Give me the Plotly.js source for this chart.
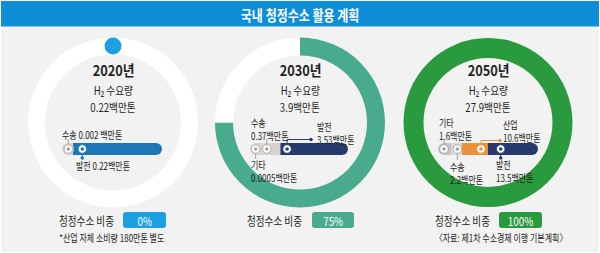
<!DOCTYPE html>
<html><head><meta charset="utf-8">
<script src="https://cdn.plot.ly/plotly-3.0.1.min.js"></script>
<style>html,body{margin:0;padding:0;background:#f2f2f2}#chart{width:600px;height:253px}</style>
</head><body><div id="chart"></div>
<script>
// ---------- data ----------
const years = ['2020년', '2030년', '2050년'];
const demand = [0.22, 3.9, 27.9];               // H2 demand, million tons
const cleanShare = [0, 75, 100];                // clean hydrogen share, %

const seg2020Names = ['수송', '발전'];
const seg2020Values = [0.002, 0.22];
const seg2020Drawn = [11, 89];                  // share of bar length as drawn (%)

const seg2030Names = ['기타', '수송', '발전'];
const seg2030Values = [0.0005, 0.37, 3.53];
const seg2030Drawn = [11, 20, 69];

const seg2050Names = ['기타', '수송', '산업', '발전'];
const seg2050Values = [1.6, 2.2, 10.6, 13.5];
const seg2050Drawn = [13, 11, 26, 50];

const titleText = '국내 청정수소 활용 계획';
const demandLabel = 'H₂ 수요량';
const shareLabel = '청정수소 비중';
const note1 = '*산업 자체 소비량 180만톤 별도';
const note2 = '〈자료: 제1차 수소경제 이행 기본계획〉';

// ---------- layout / style ----------
const W = 600, H = 253;
const F = '"Noto Sans CJK KR", "Noto Sans", sans-serif';
const ink = '#231f20';

const rings = [
  {cx: 113, cy: 122.5, r: 85, thick: 17, color: '#1ca0e3'},
  {cx: 300, cy: 122.5, r: 85, thick: 18, color: '#48ab8e'},
  {cx: 488, cy: 122.5, r: 84.5, thick: 20, color: '#2a9a3e'}
];

const barY = 149, barH = 12, capPx = 6;
const grayLead = '#a6a19b';
const bars = [
  {x0: 62, x1: 162, names: seg2020Names, vals: seg2020Values, drawn: seg2020Drawn,
   fill: ['#d7d3ce', '#1d77b6'], dot: [grayLead, '#1d77b6'], dotOff: [6.3, 9.3],
   labels: [{x: 61, y: 134, to: 139, one: true, sp: true}, {x: 75, y: 165, to: 158, one: true, end: true}]},
  {x0: 250, x1: 348, names: seg2030Names, vals: seg2030Values, drawn: seg2030Drawn,
   fill: ['#d7d4cf', '#d7d4cf', '#263a6c'], dot: [grayLead, grayLead, '#263a6c'], dotOff: [5.7, 6, 6.7],
   labels: [{x: 250, y: 171, to: 159}, {x: 250, y: 128.5, to: 139},
            {x: 316, y: 132.5, to: 139.5, hx: 311, end: true}]},
  {x0: 438, x1: 538, names: seg2050Names, vals: seg2050Values, drawn: seg2050Drawn,
   fill: ['#c4c4c4', '#dddad6', '#e8923c', '#263a6c'], dot: ['#9c9c9c', grayLead, '#e8923c', '#263a6c'],
   dotOff: [6, 6.3, 19, 12.7],
   labels: [{x: 438, y: 128.5, to: 139}, {x: 449, y: 172.5, to: 160},
            {x: 502, y: 130.5, to: 140.5, hx: 500, end: true}, {x: 495, y: 170.5, to: 158, end: true}]}
];

const badges = [
  {textX: 86.5, x0: 123, x1: 166},
  {textX: 274, x0: 312, x1: 354},
  {textX: 462.5, x0: 499, x1: 542}
];

const data = [];
const shapes = [];
const annotations = [];
const squeeze = [];

function txt(x, y, text, size, opt) {
  opt = opt || {};
  const anchor = opt.anchor || 'center';
  annotations.push({xref: 'x', yref: 'y', x: x, y: y, text: text, showarrow: false,
    xanchor: anchor, yanchor: 'middle', align: anchor === 'left' ? 'left' : 'center',
    borderpad: 0,
    font: {family: F, size: size, color: opt.color || ink, weight: opt.bold ? 700 : 400}});
  squeeze.push({sx: opt.sx || 0.8, anchor: anchor});
}

function roundRect(x0, y0, x1, y1, r) {
  return `M${x0 + r},${y0} L${x1 - r},${y0} Q${x1},${y0} ${x1},${y0 + r} L${x1},${y1 - r} Q${x1},${y1} ${x1 - r},${y1} ` +
         `L${x0 + r},${y1} Q${x0},${y1} ${x0},${y1 - r} L${x0},${y0 + r} Q${x0},${y0} ${x0 + r},${y0} Z`;
}

// background frame + header
shapes.push({type: 'rect', xref: 'x', yref: 'y', x0: 0, x1: W, y0: 0, y1: H, line: {color: '#ffffff', width: 2}, fillcolor: 'rgba(0,0,0,0)', layer: 'below'});
shapes.push({type: 'rect', xref: 'x', yref: 'y', x0: 1, x1: W - 1, y0: 1, y1: 26.5, line: {width: 0}, fillcolor: '#0d8ed6', layer: 'below'});
txt(300, 14, titleText, 15, {color: '#ffffff', bold: true});

// rings
rings.forEach((g, i) => {
  data.push({type: 'pie', values: [cleanShare[i], 100 - cleanShare[i]],
    marker: {colors: [g.color, '#ffffff'], line: {width: 0}},
    hole: 1 - g.thick / g.r, sort: false, direction: 'clockwise', rotation: 0,
    textinfo: 'none', textposition: 'none', hoverinfo: 'skip', showlegend: false,
    domain: {x: [(g.cx - g.r) / W, (g.cx + g.r) / W], y: [1 - (g.cy + g.r) / H, 1 - (g.cy - g.r) / H]}});
  if (cleanShare[i] === 0) {
    const a = cleanShare[i] / 100 * 2 * Math.PI, rr = g.r - g.thick / 2, d = g.thick / 2;
    const px = g.cx + Math.sin(a) * rr, py = g.cy - Math.cos(a) * rr;
    shapes.push({type: 'circle', xref: 'x', yref: 'y', x0: px - d, x1: px + d, y0: py - d, y1: py + d,
      fillcolor: g.color, line: {width: 0}});
  }
  txt(g.cx, 69.5, years[i], 15, {bold: true, sx: 0.85});
  txt(g.cx, 89.8, demandLabel, 11.5, {sx: 0.84});
  txt(g.cx, 106.5, demand[i] + '백만톤', 11.5, {sx: 0.84});

  // share badge
  const b = badges[i];
  txt(b.textX, 220, shareLabel, 12);
  shapes.push({type: 'path', xref: 'x', yref: 'y', path: roundRect(b.x0, 212, b.x1, 228, 3),
    fillcolor: g.color, line: {width: 0}});
  txt((b.x0 + b.x1) / 2, 220.5, cleanShare[i] + '%', 12, {color: '#ffffff', sx: 0.82});
});

txt(111.5, 237.5, note1, 10);
txt(501, 237.5, note2, 10);

// stacked bars
const layoutAxes = {};
const endDotX = [], endDotY = [], endDotC = [];
bars.forEach((b, k) => {
  const ax = 'x' + (k + 2);
  const wpx = b.x1 - b.x0;
  const unit = 100 / wpx;          // axis units per pixel
  const capU = capPx * unit;
  layoutAxes['xaxis' + (k + 2)] = {domain: [b.x0 / W, b.x1 / W], range: [0, 100], anchor: 'y',
    visible: false, fixedrange: true};
  let start = 0;
  const starts = [];
  b.drawn.forEach((len, i) => {
    starts.push(start);
    const s = Math.max(start, capU), e = Math.min(start + len, 100 - capU);
    data.push({type: 'bar', orientation: 'h', xaxis: ax, yaxis: 'y', y: [barY], x: [e - s], base: [s],
      width: barH, marker: {color: b.fill[i], line: {width: 0}}, hoverinfo: 'skip', showlegend: false,
      textposition: 'none'});
    start += len;
  });
  // rounded caps
  data.push({type: 'scatter', mode: 'markers', xaxis: ax, yaxis: 'y',
    x: [capU, 100 - capU], y: [barY, barY],
    marker: {size: barH, color: [b.fill[0], b.fill[b.fill.length - 1]], line: {width: 0}},
    hoverinfo: 'skip', showlegend: false});
  // segment dots
  const dx = starts.map((s, i) => s + b.dotOff[i] * unit);
  data.push({type: 'scatter', mode: 'markers', xaxis: ax, yaxis: 'y', x: dx, y: dx.map(() => barY),
    marker: {size: 8.5, color: '#ffffff', line: {width: 0.8, color: b.dot}}, hoverinfo: 'skip', showlegend: false});
  data.push({type: 'scatter', mode: 'markers', xaxis: ax, yaxis: 'y', x: dx, y: dx.map(() => barY),
    marker: {size: 3.6, color: b.dot, line: {width: 0}}, hoverinfo: 'skip', showlegend: false});

  // labels + leader lines
  b.labels.forEach((L, i) => {
    const px = b.x0 + dx[i] / unit;
    const up = L.to < barY;
    const yStart = up ? barY - 4.5 : barY + 4.5;
    const col = b.dot[i];
    shapes.push({type: 'line', xref: 'x', yref: 'y', x0: px, x1: px, y0: yStart, y1: L.to, line: {color: col, width: 1}});
    let ex = px;
    if (L.hx !== undefined) {
      shapes.push({type: 'line', xref: 'x', yref: 'y', x0: px, x1: L.hx, y0: L.to, y1: L.to, line: {color: col, width: 1}});
      ex = L.hx;
    }
    if (L.end) { endDotX.push(ex); endDotY.push(L.to); endDotC.push(col); }
    const val = String(b.vals[i]);
    if (L.one) {
      txt(L.x, L.y, b.names[i] + ' ' + val + (L.sp ? ' ' : '') + '백만톤', 10, {anchor: 'left'});
    } else {
      txt(L.x, L.y, b.names[i] + '<br>' + val + '백만톤', 10, {anchor: 'left'});
    }
  });
});

data.push({type: 'scatter', mode: 'markers', xaxis: 'x', yaxis: 'y', x: endDotX, y: endDotY,
  marker: {size: 3.5, color: endDotC, line: {width: 0}}, hoverinfo: 'skip', showlegend: false});

const layout = Object.assign({
  width: W, height: H, margin: {l: 0, r: 0, t: 0, b: 0, pad: 0},
  paper_bgcolor: '#f2f2f2', plot_bgcolor: 'rgba(0,0,0,0)',
  barmode: 'overlay', showlegend: false,
  xaxis: {range: [0, W], domain: [0, 1], visible: false, fixedrange: true},
  yaxis: {range: [H, 0], domain: [0, 1], visible: false, fixedrange: true},
  shapes: shapes, annotations: annotations,
  font: {family: F}
}, layoutAxes);

Plotly.newPlot('chart', data, layout, {staticPlot: true, displayModeBar: false}).then(gd => {
  gd.querySelectorAll('g.annotation').forEach(g => {
    const i = +g.getAttribute('data-index');
    const s = squeeze[i];
    const t = g.querySelector('text.annotation-text');
    if (!s || !t) return;
    t.style.transformBox = 'fill-box';
    t.style.transformOrigin = (s.anchor === 'left' ? 'left' : s.anchor === 'right' ? 'right' : 'center') + ' center';
    t.style.transform = 'scaleX(' + s.sx + ')';
  });
});
</script>
</body></html>
